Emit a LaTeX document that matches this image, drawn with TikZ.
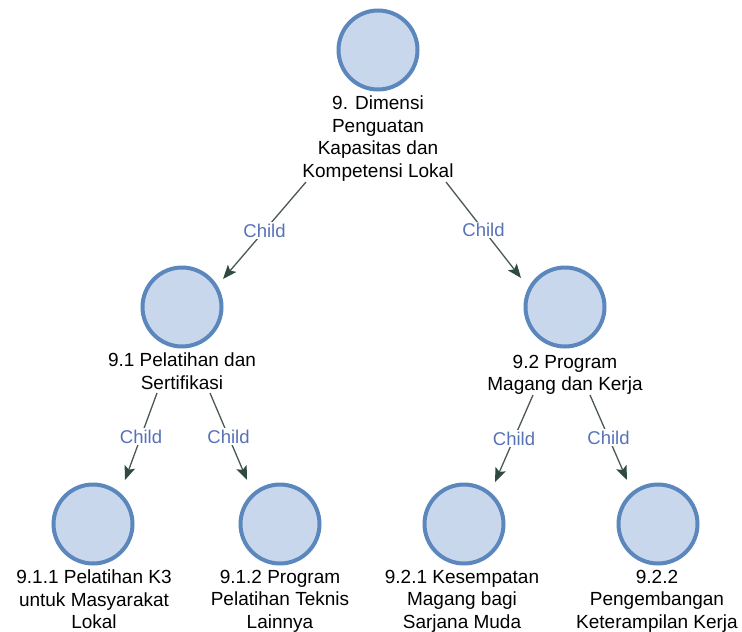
\documentclass[tikz,border=0pt]{standalone}
\usepackage{fontspec}
\setmainfont{Liberation Sans}
\usetikzlibrary{arrows.meta}
\definecolor{ringblue}{HTML}{5B87BD}
\definecolor{discfill}{HTML}{C8D7EC}
\definecolor{edgegray}{HTML}{4A5752}
\definecolor{tipgreen}{HTML}{2F4A40}
\definecolor{childblue}{HTML}{5872B8}
\tikzset{
  disc/.style={circle, draw=ringblue, fill=discfill, line width=4pt,
               minimum size=79pt, inner sep=0pt},
  caption/.style={anchor=north, align=center, inner sep=0pt,
                  font=\fontsize{19}{22.5}\selectfont},
  edge/.style={draw=edgegray, line width=1.3pt,
               -{Stealth[length=14pt,width=11pt,inset=3pt,fill=tipgreen,color=tipgreen]}},
  lbl/.style={fill=white, text=childblue, inner sep=1.5pt,
              font=\fontsize{18.5}{20}\selectfont}
}
\begin{document}
\begin{tikzpicture}[x=1pt,y=-1pt]
  \useasboundingbox (0,0) rectangle (742,632);

  % circles
  \node[disc] (c0)  at (378,50)  {};
  \node[disc] (c1)  at (182,307) {};
  \node[disc] (c2)  at (565,307) {};
  \node[disc] (c11) at (93,524)  {};
  \node[disc] (c12) at (280,524) {};
  \node[disc] (c21) at (464,524) {};
  \node[disc] (c22) at (658,524) {};

  % captions under the circles
  \node[caption] (t0)  at (378,96)  {9. Dimensi\\Penguatan\\Kapasitas dan\\Kompetensi Lokal};
  \node[caption] (t1)  at (182,353) {9.1 Pelatihan dan\\Sertifikasi};
  \node[caption] (t2)  at (565,355) {9.2 Program\\Magang dan Kerja};
  \node[caption] (t11) at (94,570)  {9.1.1 Pelatihan K3\\untuk Masyarakat\\Lokal};
  \node[caption] (t12) at (280,570) {9.1.2 Program\\Pelatihan Teknis\\Lainnya};
  \node[caption] (t21) at (462,570) {9.2.1 Kesempatan\\Magang bagi\\Sarjana Muda};
  \node[caption] (t22) at (657,570) {9.2.2\\Pengembangan\\Keterampilan Kerja};

  % parent-child connectors
  \draw[edge] ([shift={(-72,132)}]c0.center) -- node[lbl]{Child} ([shift={(41,-28)}]c1.center);
  \draw[edge] ([shift={(68,132)}]c0.center)  -- node[lbl]{Child} ([shift={(-44,-29)}]c2.center);
  \draw[edge] ([shift={(-25,86)}]c1.center)  -- node[lbl]{Child} ([shift={(32,-44)}]c11.center);
  \draw[edge] ([shift={(28,86)}]c1.center)   -- node[lbl]{Child} ([shift={(-33,-44)}]c12.center);
  \draw[edge] ([shift={(-32,88)}]c2.center)  -- node[lbl]{Child} ([shift={(31,-42)}]c21.center);
  \draw[edge] ([shift={(25,88)}]c2.center)   -- node[lbl]{Child} ([shift={(-31,-44)}]c22.center);
\end{tikzpicture}
\end{document}
